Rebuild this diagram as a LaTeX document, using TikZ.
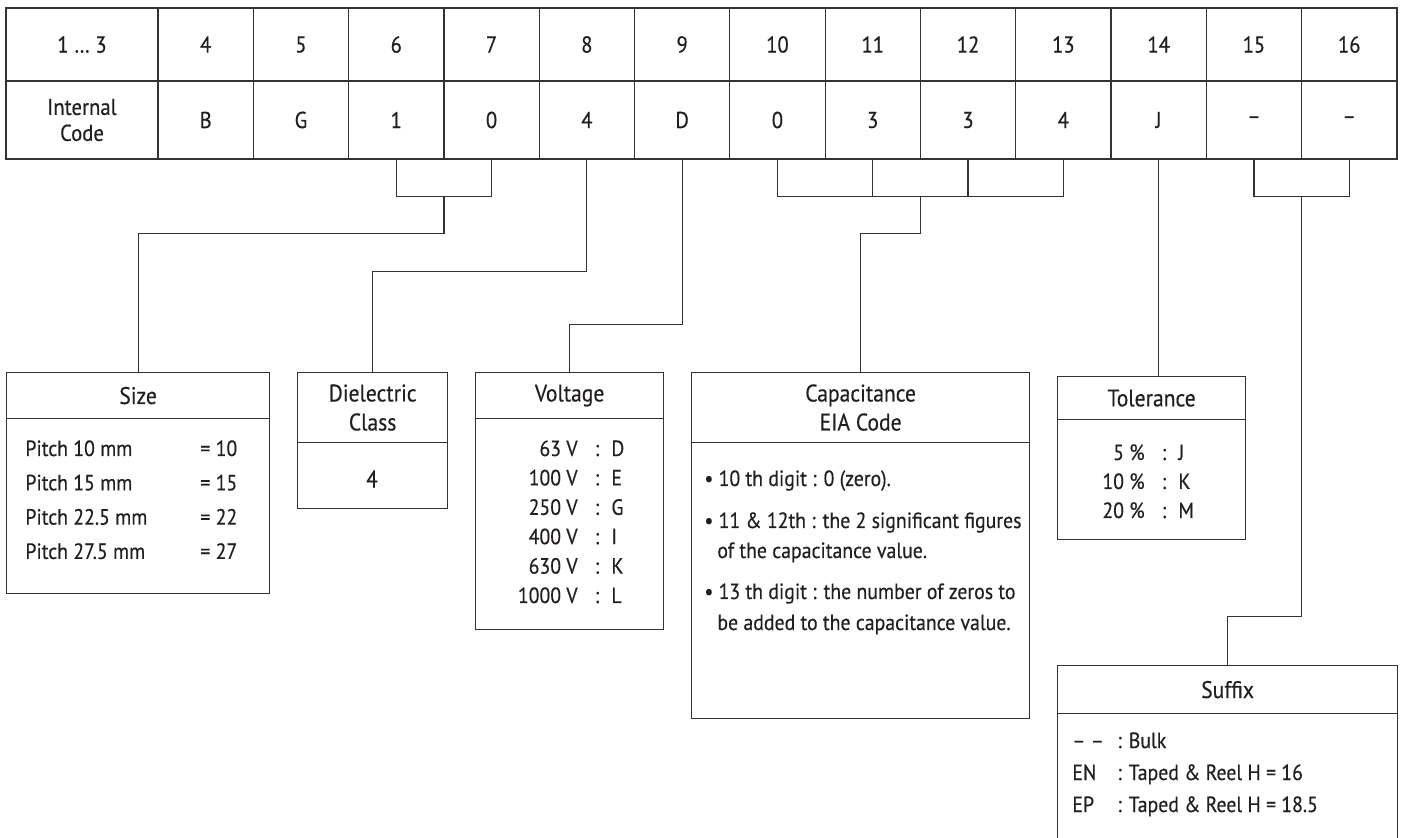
\documentclass[tikz,border=0pt]{standalone}
\usepackage{fontspec}
\setmainfont{PT Sans}[FakeStretch=0.9, FakeBold=0.4]
\usepackage{tikz}
\usetikzlibrary{calc,positioning}
\definecolor{codeInk}{HTML}{231F20}
\definecolor{codeLine}{HTML}{333333}

\begin{document}
\begin{tikzpicture}[
  x=0.5pt, y=-0.5pt,
  every node/.style={font=\fontsize{11}{13}\selectfont, text=codeInk},
  cell/.style={draw=codeLine, line width=0.6pt, inner sep=0pt, align=center,
    font=\fontsize{11.5}{13}\selectfont},
  box/.style={draw=codeLine, line width=0.6pt, inner sep=0pt, anchor=north west},
  hdr/.style={draw=codeLine, line width=0.6pt, inner sep=0pt, anchor=north west,
    align=center, font=\fontsize{12}{14.5}\selectfont},
  txt/.style={inner sep=0pt},
  wire/.style={codeLine, line width=0.6pt},
]

% --- Constants ---
\def\cw{47.65pt}   % width of one digit column
\def\rh{36.5pt}    % height of the position row
\def\ch{39pt}      % height of the code row

\useasboundingbox (0,0) rectangle (1402,838);

% --- Code table ---
\node[cell, minimum width=76pt, minimum height=\rh] (h0) at (82,44.5) {1 … 3};
\node[cell, minimum width=76pt, minimum height=\ch] (v0) at (82,120) {Internal\\Code};
\foreach \n/\val [count=\k] in {4/B, 5/G, 6/1, 7/0, 8/4, 9/D, 10/0, 11/3, 12/3,
                                13/4, 14/J, 15/–, 16/–} {
  \node[cell, minimum width=\cw, minimum height=\rh] (h\n) at ({158+(\k-0.5)*95.3},44.5) {\n};
  \node[cell, minimum width=\cw, minimum height=\ch] (v\n) at ({158+(\k-0.5)*95.3},120) {\val};
}

% --- Boxes ---
\node[box, minimum width=131.5pt, minimum height=110.5pt] (size) at (6,372) {};
\node[hdr, minimum width=131.5pt, minimum height=23pt] (sizeH) at (size.north west) {Size};

\node[box, minimum width=75pt, minimum height=68pt] (diel) at (297,372) {};
\node[hdr, minimum width=75pt, minimum height=35pt] (dielH) at (diel.north west) {Dielectric\\Class};

\node[box, minimum width=94pt, minimum height=128.5pt] (volt) at (475,372) {};
\node[hdr, minimum width=94pt, minimum height=23pt] (voltH) at (volt.north west) {Voltage};

\node[box, minimum width=169pt, minimum height=173pt] (cap) at (691,372) {};
\node[hdr, minimum width=169pt, minimum height=35pt] (capH) at (cap.north west) {Capacitance\\EIA Code};

\node[box, minimum width=94pt, minimum height=81.5pt] (tol) at (1057,376) {};
\node[hdr, minimum width=94pt, minimum height=21.5pt] (tolH) at (tol.north west) {Tolerance};

\node[box, minimum width=170pt, minimum height=95pt] (suf) at (1057,665) {};
\node[hdr, minimum width=170pt, minimum height=24pt] (sufH) at (suf.north west) {Suffix};

% --- Box contents ---
\foreach \p/\c [count=\r] in {10/10, 15/15, 22.5/22, 27.5/27} {
  \node[txt, anchor=mid west] (sizeL\r) at (25,{451+34.3*(\r-1)}) {Pitch \p~mm};
  \node[txt, anchor=mid west] (sizeR\r) at (200,{451+34.3*(\r-1)}) {= \c};
}

\node[txt, font=\fontsize{12}{14}\selectfont] (dielV) at (372,479) {4};

\foreach \v/\c [count=\r] in {63/D, 100/E, 250/G, 400/I, 630/K, 1000/L} {
  \node[txt, anchor=mid east] (voltV\r) at (578,{451+29.4*(\r-1)}) {\v~V};
  \node[txt, anchor=mid] (voltS\r) at (597,{451+29.4*(\r-1)}) {:};
  \node[txt, anchor=mid west] (voltC\r) at (611,{451+29.4*(\r-1)}) {\c};
}

\node[txt, anchor=mid west] (cap1) at (704,481) {\textbullet\ 10 th digit : 0 (zero).};
\node[txt, anchor=mid west] (cap2) at (704,523) {\textbullet\ 11 \& 12th : the 2 significant figures};
\node[txt, anchor=mid west] (cap2b) at (717,553) {of the capacitance value.};
\node[txt, anchor=mid west] (cap3) at (704,594) {\textbullet\ 13 th digit : the number of zeros to};
\node[txt, anchor=mid west] (cap3b) at (717,625) {be added to the capacitance value.};

\foreach \p/\c [count=\r] in {5/J, 10/K, 20/M} {
  \node[txt, anchor=mid east] (tolV\r) at (1145,{455+29*(\r-1)}) {\p~\%};
  \node[txt, anchor=mid] (tolS\r) at (1164,{455+29*(\r-1)}) {:};
  \node[txt, anchor=mid west] (tolC\r) at (1178,{455+29*(\r-1)}) {\c};
}

\foreach \s/\d [count=\r] in {{– –}/Bulk, EN/{Taped \& Reel H = 16}, EP/{Taped \& Reel H = 18.5}} {
  \node[txt, anchor=mid west] (sufK\r) at (1072,{743+32*(\r-1)}) {\s};
  \node[txt, anchor=mid west] (sufD\r) at (1117,{743+32*(\r-1)}) {: \d};
}

% --- Connectors ---
\coordinate (j67) at ($(v6.south)!0.5!(v7.south)+(0,37)$);
\draw[wire] (v6.south) |- (j67) -| (v7.south);
\draw[wire] (j67) -- ++(0,37) -| (size.north);

\draw[wire] (v8.south) -- ++(0,112) -| (diel.north);
\draw[wire] (v9.south) -- ++(0,165) -| (volt.north);

\coordinate (j1013) at ($(v10.south)!0.5!(v13.south)+(0,37)$);
\draw[wire] (v10.south) |- (j1013) -| (v13.south);
\draw[wire] (v11.south) -- (v11.south |- j1013);
\draw[wire] (v12.south) -- (v12.south |- j1013);
\draw[wire] (j1013) -- ++(0,37) -| (cap.north);

\draw[wire] (v14.south) -- (v14.south |- tol.north);

\coordinate (j1516) at ($(v15.south)!0.5!(v16.south)+(0,37)$);
\draw[wire] (v15.south) |- (j1516) -| (v16.south);
\draw[wire] (j1516) -- ++(0,420) -| (suf.north);

\end{tikzpicture}
\end{document}
